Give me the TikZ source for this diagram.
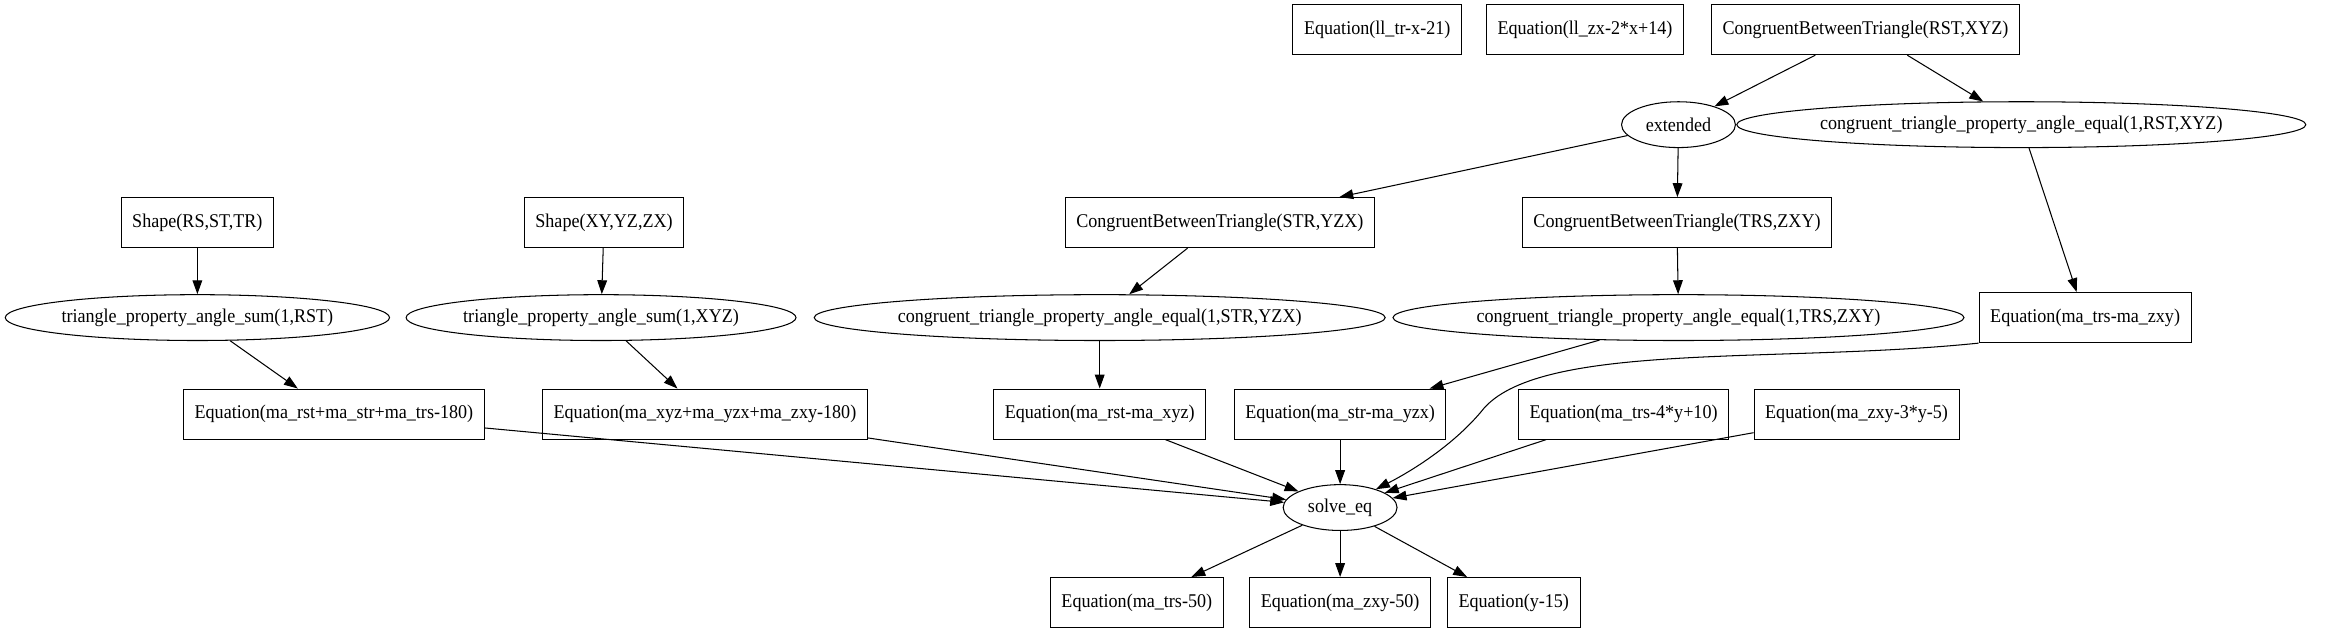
\documentclass[tikz,border=0pt]{standalone}
\usepackage{fontspec}
\setmainfont{Liberation Serif}[FakeStretch=0.93]
\usetikzlibrary{arrows.meta,shapes.geometric}
\begin{document}
\begin{tikzpicture}[x=1.0685pt,y=-1.0685pt,
every node/.style={font=\fontsize{14pt}{16pt}\selectfont},
fact/.style={draw,rectangle,line width=0.75pt,inner xsep=8pt,minimum height=36pt,minimum width=54pt},
rule/.style={draw,ellipse,line width=0.75pt,inner xsep=0pt,inner ysep=2pt,minimum height=33pt,minimum width=82pt},
edge/.style={line width=0.75pt,-{Triangle[length=10pt,width=7pt]}}]
\useasboundingbox (0,0) rectangle (1568,428);
	\node[fact] (eqtr) at (928,20) {Equation(ll\_tr-x-21)};
	\node[fact] (eqzx) at (1068,20) {Equation(ll\_zx-2*x+14)};
	\node[fact] (cbtrst) at (1257,20) {CongruentBetweenTriangle(RST,XYZ)};
	\node[rule] (ext) at (1131,84) {extended};
	\node[rule] (congrst) at (1362,84) {congruent\_triangle\_property\_angle\_equal(1,RST,XYZ)};
	\node[fact] (shrst) at (133,150) {Shape(RS,ST,TR)};
	\node[fact] (shxyz) at (407,150) {Shape(XY,YZ,ZX)};
	\node[fact] (cbtstr) at (822,150) {CongruentBetweenTriangle(STR,YZX)};
	\node[fact] (cbttrs) at (1130,150) {CongruentBetweenTriangle(TRS,ZXY)};
	\node[rule] (sumrst) at (133,214) {triangle\_property\_angle\_sum(1,RST)};
	\node[rule] (sumxyz) at (405,214) {triangle\_property\_angle\_sum(1,XYZ)};
	\node[rule] (congstr) at (741,214) {congruent\_triangle\_property\_angle\_equal(1,STR,YZX)};
	\node[rule] (congtrs) at (1131,214) {congruent\_triangle\_property\_angle\_equal(1,TRS,ZXY)};
	\node[fact] (eqtz) at (1405,214) {Equation(ma\_trs-ma\_zxy)};
	\node[fact] (eqsumrst) at (225,279) {Equation(ma\_rst+ma\_str+ma\_trs-180)};
	\node[fact] (eqsumxyz) at (475,279) {Equation(ma\_xyz+ma\_yzx+ma\_zxy-180)};
	\node[fact] (eqrx) at (741,279) {Equation(ma\_rst-ma\_xyz)};
	\node[fact] (eqsy) at (903,279) {Equation(ma\_str-ma\_yzx)};
	\node[fact] (eqtrsy) at (1094,279) {Equation(ma\_trs-4*y+10)};
	\node[fact] (eqzxyy) at (1251,279) {Equation(ma\_zxy-3*y-5)};
	\node[rule] (solve) at (903,342) {solve\_eq};
	\node[fact] (restrs) at (766,406) {Equation(ma\_trs-50)};
	\node[fact] (reszxy) at (903,406) {Equation(ma\_zxy-50)};
	\node[fact] (resy) at (1020,406) {Equation(y-15)};
	\draw[edge] (cbtrst) -- (ext);
	\draw[edge] (cbtrst) -- (congrst);
	\draw[edge] (ext) -- (cbtstr);
	\draw[edge] (ext) -- (cbttrs);
	\draw[edge] (congrst) -- (eqtz);
	\draw[edge] (shrst) -- (sumrst);
	\draw[edge] (shxyz) -- (sumxyz);
	\draw[edge] (cbtstr) -- (congstr);
	\draw[edge] (cbttrs) -- (congtrs);
	\draw[edge] (sumrst) -- (eqsumrst);
	\draw[edge] (sumxyz) -- (eqsumxyz);
	\draw[edge] (congstr) -- (eqrx);
	\draw[edge] (congtrs) -- (eqsy);
	\draw[edge] (eqtz.south west) .. controls (1200,245) and (1040,230) .. (1000,275) .. controls (980,300) and (950,318) .. (solve);
	\foreach \src in {eqsumrst,eqsumxyz,eqrx,eqsy,eqtrsy,eqzxyy}
		\draw[edge] (\src) -- (solve);
	\foreach \dst in {restrs,reszxy,resy}
		\draw[edge] (solve) -- (\dst);
\end{tikzpicture}
\end{document}
